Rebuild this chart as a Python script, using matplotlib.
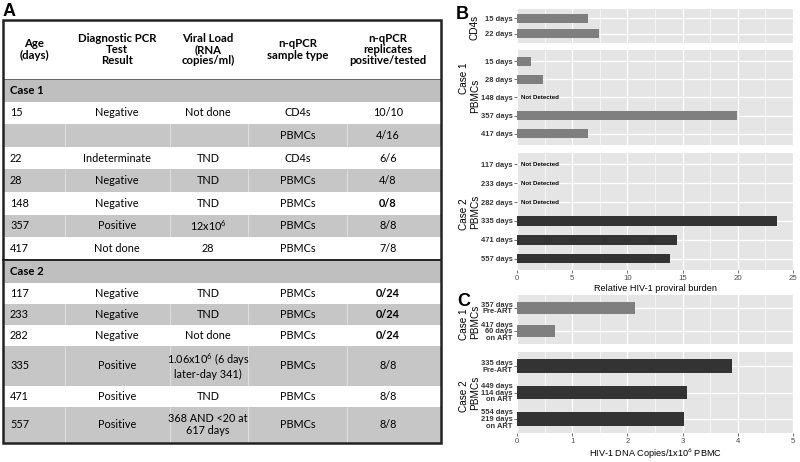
import matplotlib
matplotlib.use("Agg")
import matplotlib.pyplot as plt
import numpy as np
from matplotlib.patches import Rectangle

plt.rcParams['mathtext.fontset'] = 'custom'
plt.rcParams['mathtext.rm'] = 'Lato'
plt.rcParams['mathtext.it'] = 'Lato:italic'
plt.rcParams['mathtext.bf'] = 'Lato:bold'

# ---------------- data ----------------
table_header = ["Age\n(days)", "Diagnostic PCR\nTest\nResult", "Viral Load\n(RNA\ncopies/ml)",
                "n-qPCR\nsample type", "n-qPCR\nreplicates\npositive/tested"]
case1_title = "Case 1"
case1_rows = [
    ["15", "Negative", "Not done", "CD4s", "10/10"],
    ["", "", "", "PBMCs", "4/16"],
    ["22", "Indeterminate", "TND", "CD4s", "6/6"],
    ["28", "Negative", "TND", "PBMCs", "4/8"],
    ["148", "Negative", "TND", "PBMCs", "0/8"],
    ["357", "Positive", "12x10$^6$", "PBMCs", "8/8"],
    ["417", "Not done", "28", "PBMCs", "7/8"],
]
case2_title = "Case 2"
case2_rows = [
    ["117", "Negative", "TND", "PBMCs", "0/24"],
    ["233", "Negative", "TND", "PBMCs", "0/24"],
    ["282", "Negative", "Not done", "PBMCs", "0/24"],
    ["335", "Positive", "1.06x10$^6$ (6 days\nlater-day 341)", "PBMCs", "8/8"],
    ["471", "Positive", "TND", "PBMCs", "8/8"],
    ["557", "Positive", "368 AND <20 at\n617 days", "PBMCs", "8/8"],
]
bold_results = ["0/8", "0/24"]

b_cd4_labels = ["15 days", "22 days"]
b_cd4_values = [6.45, 7.45]
b_case1_labels = ["15 days", "28 days", "148 days", "357 days", "417 days"]
b_case1_values = [1.27, 2.36, np.nan, 19.9, 6.4]
b_case2_labels = ["117 days", "233 days", "282 days", "335 days", "471 days", "557 days"]
b_case2_values = [np.nan, np.nan, np.nan, 23.55, 14.5, 13.9]
b_xticks = [0, 5, 10, 15, 20, 25]
b_xlabel = "Relative HIV-1 proviral burden"

c_case1_labels = ["357 days\nPre-ART", "417 days\n60 days\non ART"]
c_case1_values = [2.13, 0.69]
c_case2_labels = ["335 days\nPre-ART", "449 days\n114 days\non ART", "554 days\n219 days\non ART"]
c_case2_values = [3.89, 3.08, 3.02]
c_xticks = [0, 1, 2, 3, 4, 5]
c_xlabel = "HIV-1 DNA Copies/1x10$^6$ PBMC"

not_detected = "Not Detected"

# ---------------- figure ----------------
W, H = 800, 462
fig = plt.figure(figsize=(W / 100, H / 100), dpi=100)

# ---- Panel A: table drawn in pixel coordinates ----
tax = fig.add_axes([0, 0, 1, 1])
tax.set_xlim(0, W)
tax.set_ylim(H, 0)
tax.axis("off")

TF = "Lato"
col_edges = [3, 65, 170, 248, 347, 441]
col_centers = [34, 117, 208, 298, 388]
age_x = 10
GREY = "#C6C6C6"
CASE_GREY = "#BFBFBF"

header_top, header_bot = 20, 79
tax.text(col_edges[0], 16, "A", fontsize=13, fontweight="bold", family="Liberation Sans",
         ha="left", va="baseline")

for txt, cx in zip(table_header, col_centers):
    tax.text(cx, (header_top + header_bot) / 2, txt, ha="center", va="center",
             family=TF, fontsize=8.2, fontweight="bold", linespacing=1.05)

rows = []  # (kind, content, height)
rows.append(("case", case1_title, 22.6))
for r in case1_rows:
    rows.append(("data", r, 22.6))
rows.append(("case", case2_title, 23))
for r in case2_rows:
    nl = max(c.count("\n") for c in r)
    rows.append(("data", r, 40 if r[0] == "335" else (36 if nl else 21)))

y = header_bot
stripe = 0
for kind, content, h in rows:
    if kind == "case":
        tax.add_patch(Rectangle((col_edges[0], y), col_edges[-1] - col_edges[0], h,
                                facecolor=CASE_GREY, edgecolor="none", zorder=1))
        tax.text(age_x, y + h / 2, content, ha="left", va="center", family=TF,
                 fontsize=8.2, fontweight="bold", zorder=3)
        stripe = 0
    else:
        grey = stripe % 2 == 1
        if grey:
            tax.add_patch(Rectangle((col_edges[0], y), col_edges[-1] - col_edges[0], h,
                                    facecolor=GREY, edgecolor="none", zorder=1))
            for xe in col_edges[1:-1]:
                tax.plot([xe, xe], [y, y + h], color="white", lw=0.5, alpha=0.6, zorder=2)
        for j, txt in enumerate(content):
            if not txt:
                continue
            bold = (j == 4 and txt in bold_results)
            if j == 0:
                tax.text(age_x, y + h / 2, txt, ha="left", va="center", family=TF,
                         fontsize=7.8, zorder=3)
            else:
                tax.text(col_centers[j], y + h / 2, txt, ha="center", va="center",
                         family=TF, fontsize=7.8, fontweight="bold" if bold else "normal",
                         linespacing=1.15, zorder=3)
        stripe += 1
    if kind == "case" and content == case2_title:
        tax.plot([col_edges[0], col_edges[-1]], [y, y], color="#222222", lw=1.4, zorder=4)
    y += h
table_bottom = y
tax.plot([col_edges[0], col_edges[-1]], [header_bot, header_bot], color="#666666", lw=0.7, zorder=4)
tax.add_patch(Rectangle((col_edges[0], header_top), col_edges[-1] - col_edges[0],
                        table_bottom - header_top, facecolor="none", edgecolor="#222222",
                        lw=1.8, zorder=5))

# ---- Panels B and C: faceted bar charts ----
PX_L, PX_R = 517, 793
PANEL_BG = "#E5E5E5"
C1_COL = "#7F7F7F"
C2_COL = "#333333"


def facet(top, bot, labels, values, color, xticks, show_x, bar_h, pad, nd_x, lsp=1.0):
    ax = fig.add_axes([PX_L / W, 1 - bot / H, (PX_R - PX_L) / W, (bot - top) / H])
    ax.set_facecolor(PANEL_BG)
    n = len(labels)
    pos = np.arange(n)
    vals = np.array(values, dtype=float)
    ax.barh(pos, np.nan_to_num(vals), height=bar_h, color=color, zorder=3)
    for p, v in zip(pos, vals):
        if np.isnan(v):
            ax.text(nd_x, p, not_detected, ha="left", va="center", fontsize=4.4,
                    fontweight="bold", family="Liberation Sans", zorder=4)
    ax.set_xlim(xticks[0], xticks[-1])
    ax.set_ylim(n - 1 + pad, -pad)
    ax.set_xticks(xticks)
    step = xticks[1] - xticks[0]
    ax.set_xticks(np.arange(xticks[0] + step / 2, xticks[-1], step), minor=True)
    ax.set_yticks(pos)
    ax.set_yticklabels(labels, fontsize=5.4, fontweight="bold", color="#333333",
                       family="Liberation Sans", linespacing=lsp)
    ax.grid(which="major", color="white", lw=0.9, zorder=0)
    ax.grid(which="minor", axis="x", color="white", lw=0.45, zorder=0)
    ax.set_axisbelow(True)
    for s in ax.spines.values():
        s.set_visible(False)
    ax.tick_params(axis="y", which="major", length=2.0, width=0.5, color="#333333", pad=1.0)
    ax.tick_params(axis="x", which="minor", length=0)
    if show_x:
        ax.set_xticklabels([str(t) for t in xticks], fontsize=5.6, color="#4D4D4D",
                           family="Liberation Sans")
        ax.tick_params(axis="x", which="major", length=2.2, width=0.5, color="#333333", pad=1.5)
    else:
        ax.tick_params(axis="x", which="major", length=0, labelbottom=False)
    return ax


facet(9, 43, b_cd4_labels, b_cd4_values, C1_COL, b_xticks, False, 0.56, 0.62, 0.4)
facet(50, 145, b_case1_labels, b_case1_values, C1_COL, b_xticks, False, 0.5, 0.62, 0.4)
axb3 = facet(153, 270, b_case2_labels, b_case2_values, C2_COL, b_xticks, True, 0.5, 0.6, 0.4)
axb3.set_xlabel(b_xlabel, fontsize=6.6, family="Liberation Sans", labelpad=1.0)

facet(295, 344, c_case1_labels, c_case1_values, C1_COL, c_xticks, False, 0.5, 0.55, 0.1, 0.92)
axc2 = facet(352, 433, c_case2_labels, c_case2_values, C2_COL, c_xticks, True, 0.53, 0.55, 0.1, 0.92)
axc2.set_xlabel(c_xlabel, fontsize=6.6, family="Liberation Sans", labelpad=1.0)


def ftext(x, y, s, **kw):
    fig.text(x / W, 1 - y / H, s, **kw)


strip_kw = dict(rotation=90, ha="center", va="center", fontsize=7.2, family="Liberation Sans")
IN_X, OUT_X = 475, 464
ftext(IN_X, 27, "CD4s", **strip_kw)
ftext(OUT_X, 78, "Case 1", **strip_kw)
ftext(IN_X, 96, "PBMCs", **strip_kw)
ftext(OUT_X, 214, "Case 2", **strip_kw)
ftext(IN_X, 212, "PBMCs", **strip_kw)
ftext(OUT_X, 324, "Case 1", **strip_kw)
ftext(IN_X, 322, "PBMCs", **strip_kw)
ftext(OUT_X, 396, "Case 2", **strip_kw)
ftext(IN_X, 393, "PBMCs", **strip_kw)

letter_kw = dict(fontsize=13, fontweight="bold", family="Liberation Sans", ha="left", va="baseline")
ftext(456, 19, "B", **letter_kw)
ftext(457, 306, "C", **letter_kw)

fig.savefig("out.png", dpi=100, facecolor="white")
